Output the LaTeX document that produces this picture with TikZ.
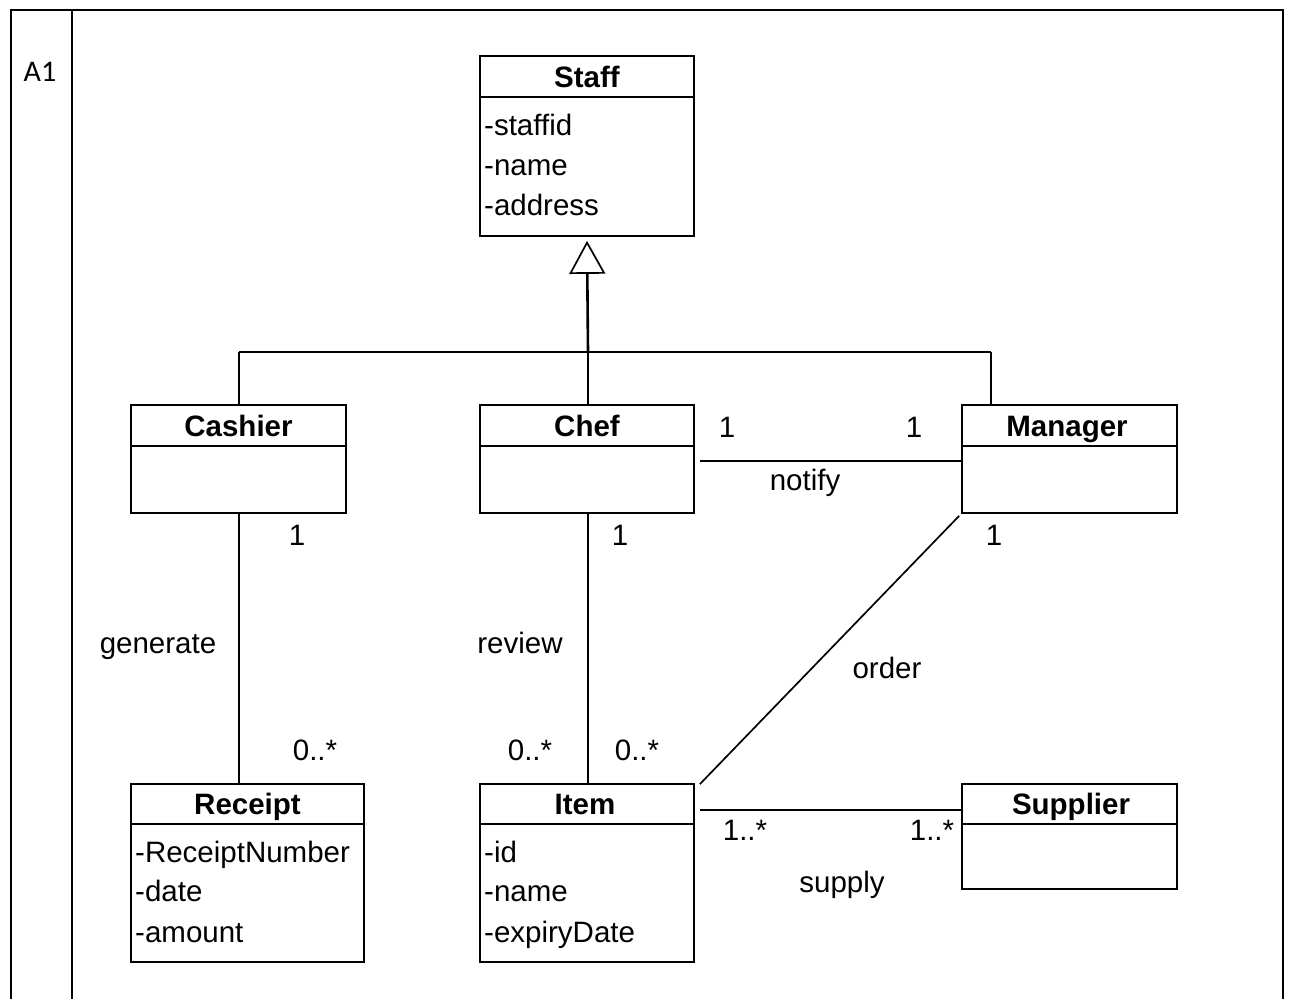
\documentclass[tikz,border=0pt]{standalone}
\usepackage{fontspec}
\setmainfont{Liberation Sans}
\newfontfamily\calibrifont{Carlito}
\usetikzlibrary{arrows.meta}
\begin{document}
\begin{tikzpicture}[x=1pt,y=-1pt,
  every node/.style={font=\fontsize{29.5}{40}\selectfont, inner sep=0pt},
  frameline/.style={line width=2.6pt},
  umlbox/.style={draw, line width=1.7pt, minimum width=#1},
  conn/.style={line width=1.7pt},
  title/.style={font=\fontsize{29.5}{40}\selectfont\bfseries, anchor=base},
  attr/.style={anchor=base west},
  lbl/.style={anchor=base}]
\useasboundingbox (0,0) rectangle (1292,999);
% outer table frame
\coordinate (f1) at (11,10);
\coordinate (f2) at (1283,10);
\draw[frameline] (11,999) -- (f1) -- (f2) -- (1283,999);
\draw[frameline] (72,10) -- (72,999);
\node[font=\calibrifont\fontsize{30}{36}\selectfont, anchor=base] (a1) at (40,81) {A1};

% classes
\node[umlbox=214pt, minimum height=180pt] (staff) at (587,146) {};
\node[umlbox=215pt, minimum height=108pt] (cashier) at (238.5,459) {};
\node[umlbox=214pt, minimum height=108pt] (chef) at (587,459) {};
\node[umlbox=215pt, minimum height=108pt] (manager) at (1069.5,459) {};
\node[umlbox=233pt, minimum height=178pt] (receipt) at (247.5,873) {};
\node[umlbox=214pt, minimum height=178pt] (item) at (587,873) {};
\node[umlbox=215pt, minimum height=105pt] (supplier) at (1069.5,836.5) {};

% dividers
\draw[conn] (staff.west |- 0,97) -- (staff.east |- 0,97);
\draw[conn] (cashier.west |- 0,446) -- (cashier.east |- 0,446);
\draw[conn] (chef.west |- 0,446) -- (chef.east |- 0,446);
\draw[conn] (manager.west |- 0,446) -- (manager.east |- 0,446);
\draw[conn] (receipt.west |- 0,824) -- (receipt.east |- 0,824);
\draw[conn] (item.west |- 0,824) -- (item.east |- 0,824);
\draw[conn] (supplier.west |- 0,824) -- (supplier.east |- 0,824);

% titles
\node[title] (staffT) at (587,87) {Staff};
\node[title] (cashierT) at (238.5,436) {Cashier};
\node[title] (chefT) at (587,436) {Chef};
\node[title] (managerT) at (1067,436) {Manager};
\node[title] (receiptT) at (247.5,814) {Receipt};
\node[title] (itemT) at (585,814) {Item};
\node[title] (supplierT) at (1071,814) {Supplier};

% attributes
\node[attr] (s1) at (484,135) {-staffid};
\node[attr] (s2) at (484,175) {-name};
\node[attr] (s3) at (484,215) {-address};
\node[attr] (r1) at (135,862) {-ReceiptNumber};
\node[attr] (r2) at (135,901) {-date};
\node[attr] (r3) at (135,942) {-amount};
\node[attr] (i1) at (484,862) {-id};
\node[attr] (i2) at (484,901) {-name};
\node[attr] (i3) at (484,942) {-expiryDate};

% generalization
\coordinate (bar) at (588,352);
\coordinate (barL) at (239,352);
\coordinate (barR) at (991,352);
\draw[conn] (barL) -- (barR);
\draw[line width=2.6pt, -{Triangle[open, length=33pt, width=36pt, line width=1.7pt]}] (bar) -- ([yshift=-4pt]staff.south);
\draw[conn] (cashier.north -| barL) -- (barL);
\draw[conn] (chef.north -| bar) -- (bar);
\draw[conn] (manager.north -| barR) -- (barR);

% associations
\draw[conn] (cashier.south -| barL) -- (receipt.north -| barL);
\draw[conn] (chef.south -| bar) -- (item.north -| bar);
\draw[conn] ([xshift=5pt]chef.east |- 0,461) -- (manager.west |- 0,461);
\draw[conn] ([shift={(-2pt,-2pt)}]manager.south west) -- ([shift={(5pt,-1pt)}]item.north east);
\draw[conn] ([xshift=5pt]item.east |- 0,810) -- (supplier.west |- 0,810);

% labels
\node[lbl] (l1) at (297,545) {1};
\node[lbl] (l2) at (315,760) {0..*};
\node[lbl] (l3) at (158,653) {generate};
\node[lbl] (l4) at (620,545) {1};
\node[lbl] (l5) at (530,760) {0..*};
\node[lbl] (l6) at (637,760) {0..*};
\node[lbl] (l7) at (520,653) {review};
\node[lbl] (l8) at (727,437) {1};
\node[lbl] (l9) at (914,437) {1};
\node[lbl] (l10) at (805,490) {notify};
\node[lbl] (l11) at (994,545) {1};
\node[lbl] (l12) at (887,678) {order};
\node[lbl] (l13) at (745,840) {1..*};
\node[lbl] (l14) at (932,840) {1..*};
\node[lbl] (l15) at (842,892) {supply};
\end{tikzpicture}
\end{document}
